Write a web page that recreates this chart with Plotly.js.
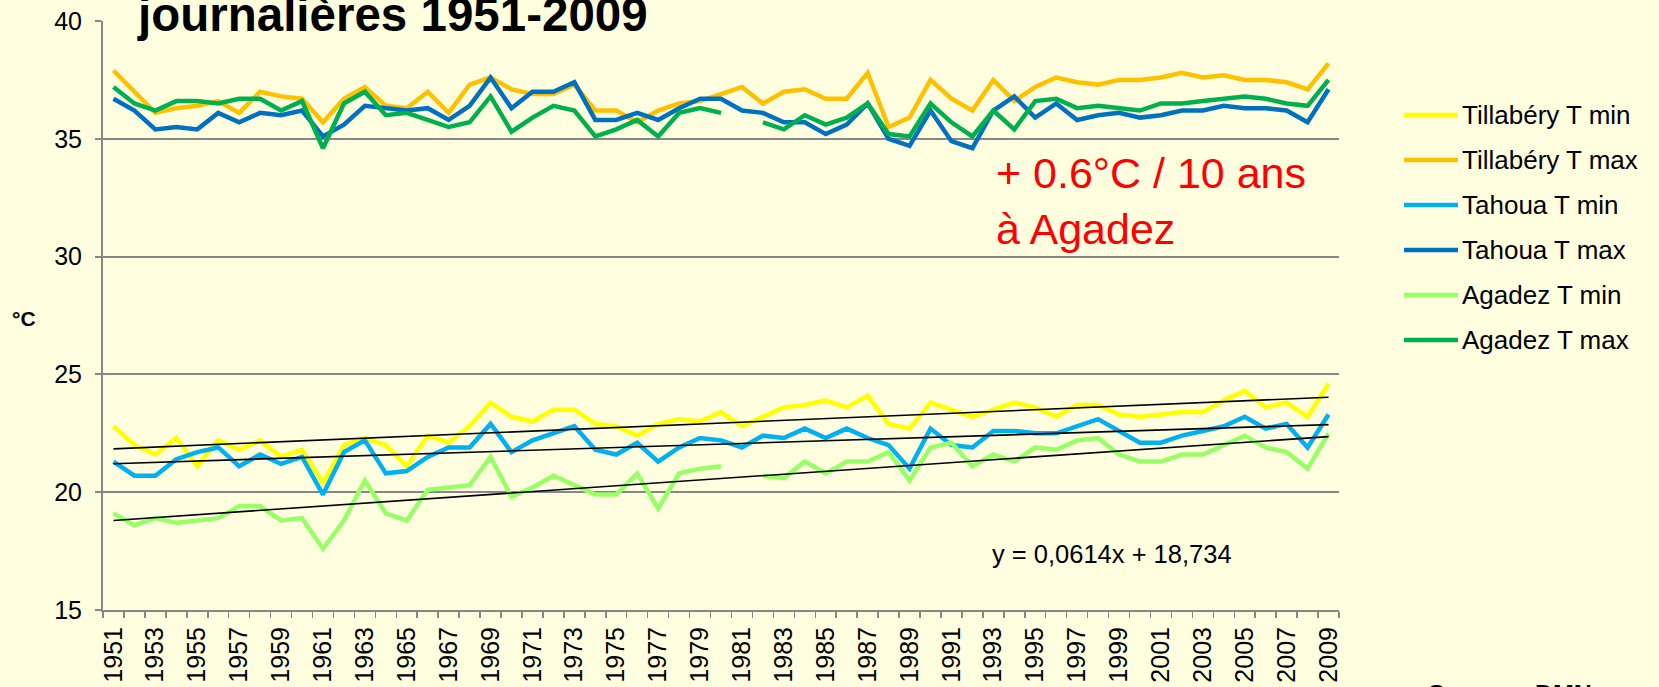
<!DOCTYPE html>
<html>
<head>
<meta charset="utf-8">
<script src="https://cdn.plot.ly/plotly-3.0.1.min.js"></script>
<style>
  html, body { margin: 0; padding: 0; background: #FFFFE0; }
  #chart { width: 1659px; height: 687px; }
</style>
</head>
<body>
<div id="chart"></div>
<script>
const years = [1951,1952,1953,1954,1955,1956,1957,1958,1959,1960,1961,1962,1963,1964,1965,1966,1967,1968,1969,1970,
  1971,1972,1973,1974,1975,1976,1977,1978,1979,1980,1981,1982,1983,1984,1985,1986,1987,1988,1989,1990,
  1991,1992,1993,1994,1995,1996,1997,1998,1999,2000,2001,2002,2003,2004,2005,2006,2007,2008,2009];

const tillaberyMin = [22.8, 22.0, 21.6, 22.3, 21.1, 22.2, 21.8, 22.2, 21.5, 21.8, 20.4, 22.0, 22.3, 22.0, 21.1, 22.4, 22.1, 22.8, 23.8, 23.2,
  23.0, 23.5, 23.5, 22.9, 22.8, 22.4, 22.9, 23.1, 23.0, 23.4, 22.8, 23.2, 23.6, 23.7, 23.9, 23.6, 24.1, 22.9, 22.7, 23.8,
  23.5, 23.2, 23.5, 23.8, 23.6, 23.2, 23.7, 23.7, 23.3, 23.2, 23.3, 23.4, 23.4, 23.9, 24.3, 23.6, 23.8, 23.2, 24.6];
const tillaberyMax = [37.9, 37.0, 36.1, 36.3, 36.4, 36.6, 36.1, 37.0, 36.8, 36.7, 35.7, 36.7, 37.2, 36.4, 36.3, 37.0, 36.1, 37.3, 37.6, 37.1,
  36.9, 36.9, 37.3, 36.2, 36.2, 35.7, 36.2, 36.5, 36.6, 36.9, 37.2, 36.5, 37.0, 37.1, 36.7, 36.7, 37.8, 35.5, 35.9, 37.5,
  36.7, 36.2, 37.5, 36.6, 37.2, 37.6, 37.4, 37.3, 37.5, 37.5, 37.6, 37.8, 37.6, 37.7, 37.5, 37.5, 37.4, 37.1, 38.2];
const tahouaMin = [21.3, 20.7, 20.7, 21.4, 21.7, 21.9, 21.1, 21.6, 21.2, 21.5, 19.9, 21.7, 22.2, 20.8, 20.9, 21.5, 21.9, 21.9, 22.9, 21.7,
  22.2, 22.5, 22.8, 21.8, 21.6, 22.1, 21.3, 21.9, 22.3, 22.2, 21.9, 22.4, 22.3, 22.7, 22.3, 22.7, 22.3, 22.0, 21.0, 22.7,
  22.0, 21.9, 22.6, 22.6, 22.5, 22.5, 22.8, 23.1, 22.6, 22.1, 22.1, 22.4, 22.6, 22.8, 23.2, 22.7, 22.9, 21.9, 23.3];
const tahouaMax = [36.7, 36.2, 35.4, 35.5, 35.4, 36.1, 35.7, 36.1, 36.0, 36.2, 35.1, 35.6, 36.4, 36.3, 36.2, 36.3, 35.8, 36.4, 37.6, 36.3,
  37.0, 37.0, 37.4, 35.8, 35.8, 36.1, 35.8, 36.3, 36.7, 36.7, 36.2, 36.1, 35.7, 35.7, 35.2, 35.6, 36.5, 35.0, 34.7, 36.2,
  34.9, 34.6, 36.2, 36.8, 35.9, 36.5, 35.8, 36.0, 36.1, 35.9, 36.0, 36.2, 36.2, 36.4, 36.3, 36.3, 36.2, 35.7, 37.1];
const agadezMin = [19.1, 18.6, 18.9, 18.7, 18.8, 18.9, 19.4, 19.4, 18.8, 18.9, 17.6, 18.8, 20.5, 19.1, 18.8, 20.1, 20.2, 20.3, 21.5, 19.8,
  20.2, 20.7, 20.3, 19.9, 19.9, 20.8, 19.3, 20.8, 21.0, 21.1, null, 20.7, 20.6, 21.3, 20.8, 21.3, 21.3, 21.7, 20.5, 21.9,
  22.1, 21.1, 21.6, 21.3, 21.9, 21.8, 22.2, 22.3, 21.6, 21.3, 21.3, 21.6, 21.6, 22.0, 22.4, 21.9, 21.7, 21.0, 22.5];
const agadezMax = [37.2, 36.5, 36.2, 36.6, 36.6, 36.5, 36.7, 36.7, 36.2, 36.6, 34.6, 36.5, 37.0, 36.0, 36.1, 35.8, 35.5, 35.7, 36.8, 35.3,
  35.9, 36.4, 36.2, 35.1, 35.4, 35.8, 35.1, 36.1, 36.3, 36.1, null, 35.7, 35.4, 36.0, 35.6, 35.9, 36.5, 35.2, 35.1, 36.5,
  35.7, 35.1, 36.2, 35.4, 36.6, 36.7, 36.3, 36.4, 36.3, 36.2, 36.5, 36.5, 36.6, 36.7, 36.8, 36.7, 36.5, 36.4, 37.5];

// linear trend lines (values at 1951 and 2009)
const trendYears = [1951, 2009];
const trendTillaberyMin = [21.84, 24.03];
const trendTahouaMin = [21.21, 22.87];
const trendAgadezMin = [18.80, 22.36];

const seriesNames = ['Tillabéry T min', 'Tillabéry T max', 'Tahoua T min', 'Tahoua T max', 'Agadez T min', 'Agadez T max'];
const seriesColors = ['#FFFF00', '#FFC000', '#00B0F0', '#0070C0', '#99FF66', '#00B050'];
const seriesData = [tillaberyMin, tillaberyMax, tahouaMin, tahouaMax, agadezMin, agadezMax];

const FONT = 'Liberation Sans, Arial, sans-serif';
const GRID = '#878787';

const traces = seriesData.map((d, k) => ({
  type: 'scatter', mode: 'lines', x: years, y: d, name: seriesNames[k],
  connectgaps: false, showlegend: false,
  line: { color: seriesColors[k], width: 4.5, shape: 'linear' },
  hoverinfo: 'x+y+name'
}));
[trendTillaberyMin, trendTahouaMin, trendAgadezMin].forEach(t => {
  traces.push({ type: 'scatter', mode: 'lines', x: trendYears, y: t, showlegend: false,
    line: { color: '#000000', width: 1.6 }, hoverinfo: 'skip' });
});

const W = 1659, H = 687;
const L = 103, R = 320, T = 21, B = 77;
const pw = W - L - R, ph = H - T - B;
const px = X => (X - L) / pw;
const py = Y => (H - B - Y) / ph;

// legend drawn as shapes + annotations (long line samples like the original)
const legendShapes = [], legendLabels = [];
seriesNames.forEach((name, k) => {
  const yy = py(115 + 45 * k);
  legendShapes.push({ type: 'line', xref: 'paper', yref: 'paper', x0: px(1404), x1: px(1458), y0: yy, y1: yy,
    line: { color: seriesColors[k], width: 4.5 } });
  legendLabels.push({ text: name, xref: 'paper', yref: 'paper', x: px(1460), y: yy, xanchor: 'left', yanchor: 'middle',
    showarrow: false, font: { family: FONT, size: 26, color: '#000' } });
});

const layout = {
  width: W, height: H,
  margin: { l: L, r: R, t: T, b: B, pad: 0 },
  paper_bgcolor: '#FFFFE0', plot_bgcolor: '#FFFFE0',
  font: { family: FONT, color: '#000000', size: 20 },
  showlegend: false,
  xaxis: {
    range: [1950.5, 2009.5], tickmode: 'linear', tick0: 1951, dtick: 2,
    tickangle: -90, tickfont: { family: FONT, size: 25, color: '#000' },
    ticks: 'outside', ticklen: 3, tickcolor: 'rgba(0,0,0,0)', ticklabelstandoff: 2,
    minor: { ticks: 'outside', tick0: 1950.5, dtick: 1, ticklen: 6, tickcolor: GRID, tickwidth: 1.5, showgrid: false },
    showgrid: false, zeroline: false, showline: true, linecolor: GRID, linewidth: 2
  },
  yaxis: {
    range: [15, 40], tickmode: 'linear', tick0: 15, dtick: 5,
    tickfont: { family: FONT, size: 25, color: '#000' },
    ticks: 'outside', ticklen: 6, tickcolor: GRID, tickwidth: 2, ticklabelstandoff: 8,
    showgrid: true, gridcolor: GRID, gridwidth: 2, zeroline: false,
    showline: true, linecolor: GRID, linewidth: 2
  },
  shapes: legendShapes,
  annotations: [
    { text: '<b>journalières 1951-2009</b>', xref: 'paper', yref: 'paper', x: px(135), y: py(43),
      xanchor: 'left', yanchor: 'bottom', showarrow: false, font: { family: FONT, size: 47.5, color: '#000' } },
    { text: '+ 0.6°C / 10 ans<br>à Agadez', xref: 'paper', yref: 'paper', x: px(994), y: py(147),
      xanchor: 'left', yanchor: 'top', align: 'left', showarrow: false,
      font: { family: FONT, size: 43, color: '#FF0000' } },
    { text: 'y = 0,0614x + 18,734', xref: 'paper', yref: 'paper', x: px(990), y: py(554),
      xanchor: 'left', yanchor: 'middle', showarrow: false, font: { family: FONT, size: 25.5, color: '#000' } },
    { text: '<b>°C</b>', xref: 'paper', yref: 'paper', x: px(24), y: py(318),
      xanchor: 'center', yanchor: 'middle', showarrow: false, font: { family: FONT, size: 21, color: '#000' } },
    { text: '<b>Source : DMN</b>', xref: 'paper', yref: 'paper', x: px(1426), y: py(678),
      xanchor: 'left', yanchor: 'top', showarrow: false, font: { family: FONT, size: 25, color: '#000' } }
  ].concat(legendLabels)
};

Plotly.newPlot('chart', traces, layout, { displayModeBar: false, staticPlot: true });
</script>
</body>
</html>
